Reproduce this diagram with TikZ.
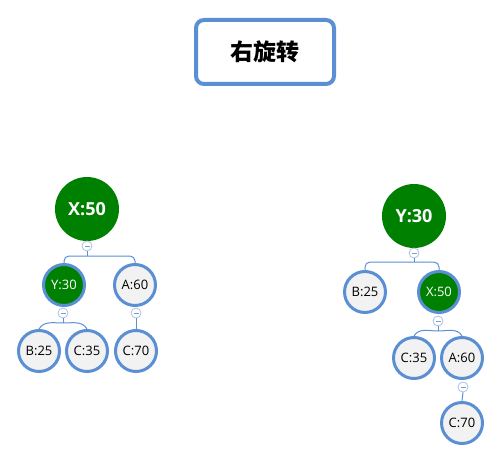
\documentclass[tikz,border=0pt]{standalone}
\usepackage{fontspec}
\setmainfont{Open Sans}
\newfontfamily\cjk{Noto Sans CJK SC}
\definecolor{bl}{HTML}{5B8FD4}
\definecolor{grn}{HTML}{008000}
\definecolor{lg}{HTML}{F2F2F2}
\definecolor{mb}{HTML}{A9C1E8}
\begin{document}
\begin{tikzpicture}[x=1pt,y=-1pt,
  root/.style={circle, fill=grn, minimum size=64pt, inner sep=0pt, text=white, font=\bfseries\fontsize{18}{20}\selectfont},
  kid/.style={circle, draw=bl, line width=3pt, fill=lg, minimum size=41pt, inner sep=0pt, font=\fontsize{13}{15}\selectfont},
  kidg/.style={kid, fill=grn, text=white},
  mn/.style={circle, draw=mb, fill=white, minimum size=10pt, inner sep=0pt, line width=0.8pt},
  conn/.style={draw=bl, line width=1pt},
  brk/.style={conn, rounded corners=5pt}]
\useasboundingbox (0,0) rectangle (502,462);
% title
\node[draw=bl, line width=4pt, rounded corners=8pt, minimum width=138pt, minimum height=64pt, fill=white, font=\cjk\bfseries\fontsize{23}{26}\selectfont] (title) at (265,52) {右旋转};
% left tree
\node[root] (lx) at (87,209) {X:50};
\node[kidg] (ly) at (64,285) {Y:30};
\node[kid] (la) at (135,285) {A:60};
\node[kid] (lb) at (39,351) {B:25};
\node[kid] (lc) at (87,351) {C:35};
\node[kid] (lc7) at (136,351) {C:70};
\node[mn] (lm1) at (87,246) {};
\node[mn] (lm2) at (63,313) {};
\node[mn] (lm3) at (136,313) {};
\coordinate (lb1) at (87,256);
\coordinate (lb2) at (63,323);
\draw[conn] (lm1.south) -- (lb1);
\draw[brk] (ly.north) |- (lb1) -| (la.north);
\draw[conn] (lm2.south) -- (lb2);
\draw[conn] (lb.north) to[out=60,in=180] (lb2) to[out=0,in=120] (lc.north);
\draw[conn] (lm3.south) -- (lc7.north);
% right tree
\node[root] (ry) at (414,216) {Y:30};
\node[kid] (rb) at (365,292) {B:25};
\node[kidg] (rx) at (439,292) {X:50};
\node[kid] (rc) at (414,358) {C:35};
\node[kid] (ra) at (462,358) {A:60};
\node[kid] (rc7) at (462,423) {C:70};
\node[mn] (rm1) at (414,253) {};
\node[mn] (rm2) at (438,321) {};
\node[mn] (rm3) at (463,387) {};
\coordinate (rb1) at (414,262);
\coordinate (rb2) at (438,331);
\draw[conn] (rm1.south) -- (rb1);
\draw[brk] (rb.north) |- (rb1) -| (rx.north);
\draw[conn] (rm2.south) -- (rb2);
\draw[conn] (rc.north) to[out=60,in=180] (rb2) to[out=0,in=120] (ra.north);
\draw[conn] (rm3.south) -- (rc7.north);
% minus marks
\foreach \m in {lm1,lm2,lm3,rm1,rm2,rm3}
  \draw[mb!80!black, line width=0.6pt] ([xshift=-2.5pt]\m.center) -- ([xshift=2.5pt]\m.center);
\end{tikzpicture}
\end{document}
